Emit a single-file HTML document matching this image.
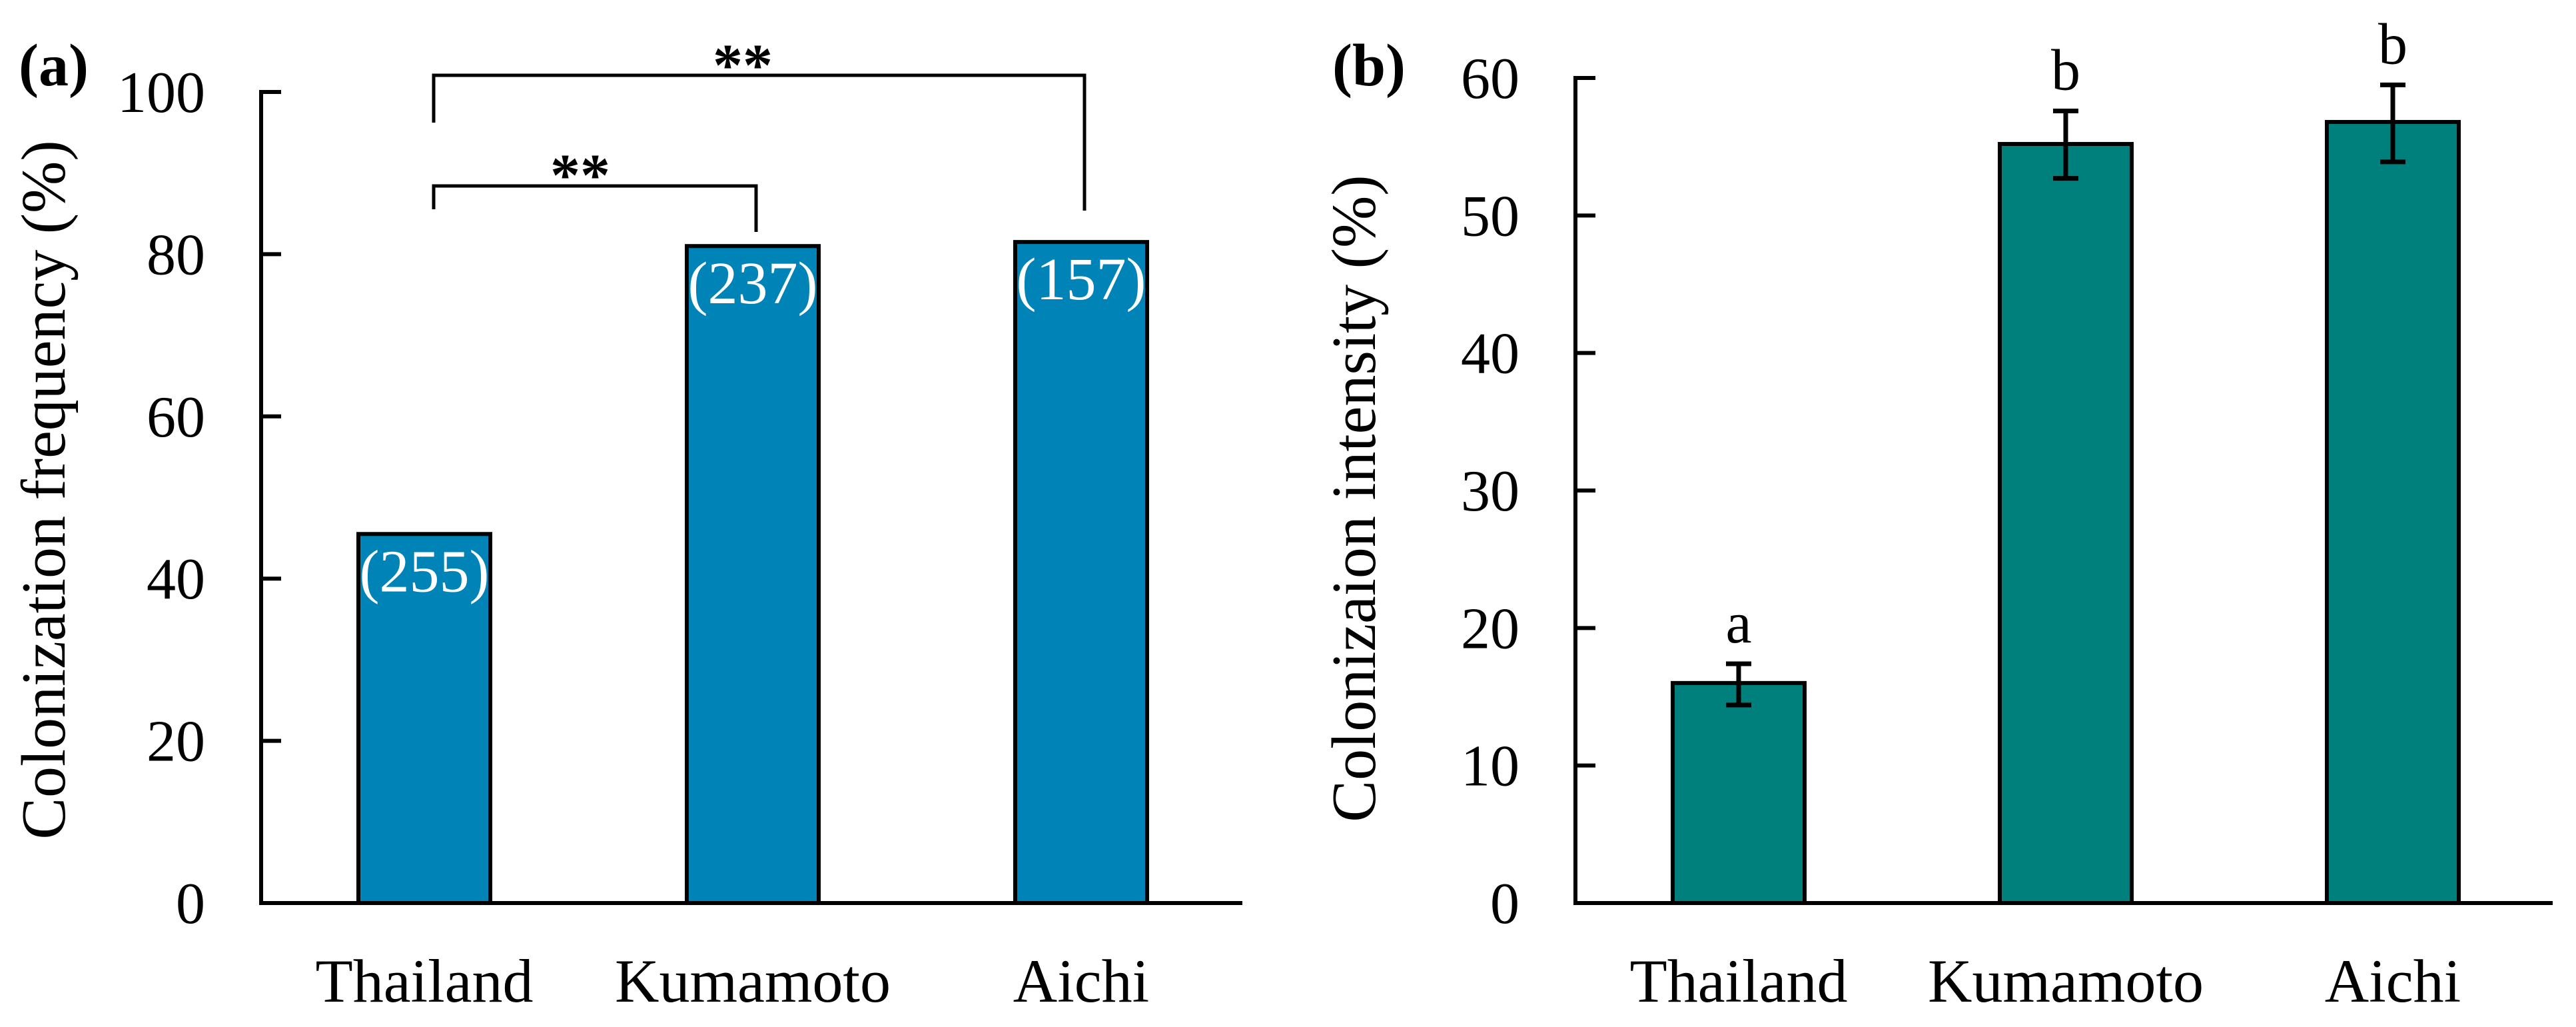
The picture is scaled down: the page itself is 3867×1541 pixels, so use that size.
<!DOCTYPE html>
<html><head><meta charset="utf-8"><style>
html,body{margin:0;padding:0;background:#fff;}
svg{display:block;font-family:"Liberation Serif",serif;}
</style></head><body>
<svg id="chart" width="3867" height="1541" viewBox="0 0 3867 1541" xmlns="http://www.w3.org/2000/svg">
<g id="pa"></g>
<g id="pb"></g>
</svg>
<script>
const categories = ["Thailand", "Kumamoto", "Aichi"];
const freqValues = [45.5, 81.0, 81.5];
const freqCounts = ["(255)", "(237)", "(157)"];
const freqTicks = [0, 20, 40, 60, 80, 100];
const intValues = [16.0, 55.2, 56.8];
const intErrLow = [14.4, 52.7, 53.9];
const intErrHigh = [17.4, 57.6, 59.5];
const intLetters = ["a", "b", "b"];
const intTicks = [0, 10, 20, 30, 40, 50, 60];

const NS = "http://www.w3.org/2000/svg";
function mk(parent, tag, attrs, text) {
  const e = document.createElementNS(NS, tag);
  for (const k in attrs) e.setAttribute(k, attrs[k]);
  if (text !== undefined) e.textContent = text;
  parent.appendChild(e);
  return e;
}

function drawPanel(g, o) {
  const y0 = 1355;
  const yScale = v => y0 - (v / o.max) * (y0 - o.yTop);
  const xScale = i => o.firstCenter + i * o.step;
  o.values.forEach((v, i) => {
    const cx = xScale(i);
    const r = mk(g, "rect", {x: cx - 99, y: yScale(v), width: 198, height: y0 - yScale(v), fill: o.color, stroke: "#000", "stroke-width": 6});
    
    
  });
  const ax = mk(g, "path", {d: `M${o.axisX},${o.yTop - 3} V${y0} H${o.axisEnd}`, fill: "none", stroke: "#000", "stroke-width": 6});
  
  
  o.ticks.forEach(t => {
    const y = yScale(t);
    const tk = mk(g, "line", {x1: o.axisX, x2: o.axisX + 30, y1: y, y2: y, stroke: "#000", "stroke-width": 6});
    
    
    const tl = mk(g, "text", {x: o.axisX - 84, y: y + 30, "text-anchor": "end", "font-size": 88}, String(t));
    
    
  });
  categories.forEach((c, i) => {
    const t = mk(g, "text", {x: xScale(i), y: 1503, "text-anchor": "middle", "font-size": 92}, c);
    
    
  });
  const yt = mk(g, "text", {x: 0, y: 0, "text-anchor": "middle", "font-size": 94, transform: `translate(${o.titleX},${o.titleY}) rotate(-90)`}, o.title);
  
  
  const pl = mk(g, "text", {x: o.labelX, y: 128, "font-size": 90, "font-weight": "bold"}, o.label);
  
  
  return {yScale, xScale};
}

const ga = document.getElementById("pa");
const A = drawPanel(ga, {values: freqValues, max: 100, yTop: 138, axisX: 392, axisEnd: 1865, firstCenter: 637, step: 493,
  color: "#0083B7", ticks: freqTicks, title: "Colonization frequency  (%)", titleX: 97, titleY: 735, label: "(a)", labelX: 28});
freqCounts.forEach((c, i) => {
  const t = mk(ga, "text", {x: A.xScale(i), y: A.yScale(freqValues[i]) + 86, "text-anchor": "middle", "font-size": 90, fill: "#fff"}, c);
  
  
});
const b1 = mk(ga, "path", {d: `M651,184 V113 H1628 V316`, fill: "none", stroke: "#000", "stroke-width": 5});


const b2 = mk(ga, "path", {d: `M651,314 V279 H1135 V348`, fill: "none", stroke: "#000", "stroke-width": 5});


const s1 = mk(ga, "text", {x: 1115, y: 128, "text-anchor": "middle", "font-size": 90, "font-weight": "bold"}, "**");


const s2 = mk(ga, "text", {x: 871, y: 293, "text-anchor": "middle", "font-size": 90, "font-weight": "bold"}, "**");



const gb = document.getElementById("pb");
const B = drawPanel(gb, {values: intValues, max: 60, yTop: 117, axisX: 2365, axisEnd: 3832, firstCenter: 2610, step: 491,
  color: "#00807D", ticks: intTicks, title: "Colonizaion intensity (%)", titleX: 2064, titleY: 748, label: "(b)", labelX: 2000});
intValues.forEach((v, i) => {
  const cx = B.xScale(i);
  const yl = B.yScale(intErrLow[i]), yh = B.yScale(intErrHigh[i]);
  const e = mk(gb, "path", {d: `M${cx},${yl} V${yh} M${cx - 19},${yh} H${cx + 19} M${cx - 19},${yl} H${cx + 19}`, fill: "none", stroke: "#000", "stroke-width": 7});
  
  
  const l = mk(gb, "text", {x: cx, y: yh - 32, "text-anchor": "middle", "font-size": 88}, intLetters[i]);
  
  
});
</script>
</body></html>
